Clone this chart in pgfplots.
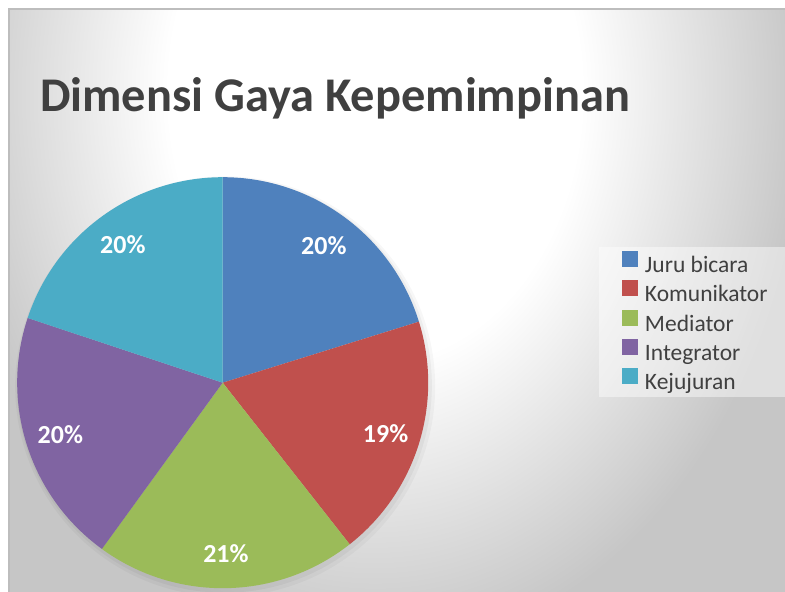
\documentclass[border=0pt]{standalone}
\usepackage{pgfplots}
\pgfplotsset{compat=1.18}
\usepackage{pgfplotstable}
\usepackage{fontspec}
\setmainfont{Carlito}
\definecolor{pblue}{HTML}{4F81BD}
\definecolor{pred}{HTML}{C0504D}
\definecolor{pgreen}{HTML}{9BBB59}
\definecolor{ppurple}{HTML}{8064A2}
\definecolor{pteal}{HTML}{4BACC6}
\definecolor{txt}{HTML}{404040}
\definecolor{bggray}{HTML}{C6C6C6}
\definecolor{bdr}{HTML}{BDBDBD}
\pgfdeclareradialshading{bgshade}{\pgfpoint{0bp}{0bp}}{color(0bp)=(white); color(12bp)=(white); color(25bp)=(bggray); color(50bp)=(bggray)}

\pgfplotstableread[col sep=comma]{
label,value
Juru bicara,20.2
Komunikator,19.2
Mediator,20.6
Integrator,20.1
Kejujuran,19.9
}\piedata

\newcommand\getrow[3]{%
  \pgfplotstablegetelem{#1}{value}\of\piedata\global\let#2\pgfplotsretval
  \pgfplotstablegetelem{#1}{label}\of\piedata\global\let#3\pgfplotsretval}
\getrow{0}{\vA}{\lA}
\getrow{1}{\vB}{\lB}
\getrow{2}{\vC}{\lC}
\getrow{3}{\vD}{\lD}
\getrow{4}{\vE}{\lE}
\pgfmathsetmacro\tot{\vA+\vB+\vC+\vD+\vE}
\pgfmathsetmacro\aA{90}
\pgfmathsetmacro\aB{\aA-360*\vA/\tot}
\pgfmathsetmacro\aC{\aB-360*\vB/\tot}
\pgfmathsetmacro\aD{\aC-360*\vC/\tot}
\pgfmathsetmacro\aE{\aD-360*\vD/\tot}
\pgfmathsetmacro\aF{\aE-360*\vE/\tot}
\pgfmathsetmacro\mA{(\aA+\aB)/2}
\pgfmathsetmacro\mB{(\aB+\aC)/2}
\pgfmathsetmacro\mC{(\aC+\aD)/2}
\pgfmathsetmacro\mD{(\aD+\aE)/2}
\pgfmathsetmacro\mE{(\aE+\aF)/2}
\pgfmathtruncatemacro\pA{round(100*\vA/\tot)}
\pgfmathtruncatemacro\pB{round(100*\vB/\tot)}
\pgfmathtruncatemacro\pC{round(100*\vC/\tot)}
\pgfmathtruncatemacro\pD{round(100*\vD/\tot)}
\pgfmathtruncatemacro\pE{round(100*\vE/\tot)}
\def\lr{0.83}

\begin{document}%
\begin{tikzpicture}%
\useasboundingbox (0,0) rectangle (785bp,592bp);
\fill[white] (0,0) rectangle (785bp,592bp);
\begin{scope}
\clip (9bp,0) rectangle (785bp,583bp);
\fill[bggray] (9bp,0) rectangle (785bp,583bp);
\shade[shading=bgshade] (375bp,500bp) ellipse [x radius=430bp, y radius=560bp];
\end{scope}
\draw[bdr, line width=2bp] (9bp,0) -- (9bp,583bp) -- (785bp,583bp);
\fill[white, opacity=0.45] (599bp,195bp) rectangle (785bp,345bp);
\node[anchor=base west, text=txt, font=\bfseries\fontsize{48.4bp}{58bp}\selectfont, inner sep=0pt] at (40bp,480bp) {Dimensi Gaya Kepemimpinan};
\begin{axis}[
  at={(222.7bp,209.3bp)}, anchor=origin,
  x=205.5bp, y=205.5bp,
  xmin=-1, xmax=1, ymin=-1, ymax=1,
  hide axis, clip=false,
  legend image code/.code={\fill[#1] (0bp,0bp) rectangle (16bp,16bp);},
  legend cell align=left,
  legend style={at={(axis description cs:1.4715,0.8211)}, anchor=north west,
    draw=none, fill=none, inner sep=0pt, outer sep=0pt,
    row sep=1.9bp, column sep=7bp, text=txt,
    font=\fontsize{23.5bp}{28bp}\selectfont,
    nodes={inner sep=0pt, text height=17bp, text depth=6bp}},
]
\fill[black, opacity=0.03] (axis cs:0.012,-0.018) circle[radius=210bp];
\fill[black, opacity=0.04] (axis cs:0.008,-0.012) circle[radius=207.5bp];
\fill[pblue] (axis cs:0,0) -- (axis cs:{cos(\aA)},{sin(\aA)}) arc[start angle=\aA, end angle=\aB, radius=205.5bp] -- cycle;
\fill[pred] (axis cs:0,0) -- (axis cs:{cos(\aB)},{sin(\aB)}) arc[start angle=\aB, end angle=\aC, radius=205.5bp] -- cycle;
\fill[pgreen] (axis cs:0,0) -- (axis cs:{cos(\aC)},{sin(\aC)}) arc[start angle=\aC, end angle=\aD, radius=205.5bp] -- cycle;
\fill[ppurple] (axis cs:0,0) -- (axis cs:{cos(\aD)},{sin(\aD)}) arc[start angle=\aD, end angle=\aE, radius=205.5bp] -- cycle;
\fill[pteal] (axis cs:0,0) -- (axis cs:{cos(\aE)},{sin(\aE)}) arc[start angle=\aE, end angle=\aF, radius=205.5bp] -- cycle;
\begin{scope}[every node/.style={text=white, font=\bfseries\fontsize{26bp}{30bp}\selectfont, inner sep=0pt}]
\node at (axis cs:{\lr*cos(\mA)},{\lr*sin(\mA)}) {\pA\%};
\node at (axis cs:{\lr*cos(\mB)},{\lr*sin(\mB)}) {\pB\%};
\node at (axis cs:{\lr*cos(\mC)},{\lr*sin(\mC)}) {\pC\%};
\node at (axis cs:{\lr*cos(\mD)},{\lr*sin(\mD)}) {\pD\%};
\node at (axis cs:{\lr*cos(\mE)},{\lr*sin(\mE)}) {\pE\%};
\end{scope}
\addlegendimage{fill=pblue, draw=none}\addlegendentryexpanded{\lA}
\addlegendimage{fill=pred, draw=none}\addlegendentryexpanded{\lB}
\addlegendimage{fill=pgreen, draw=none}\addlegendentryexpanded{\lC}
\addlegendimage{fill=ppurple, draw=none}\addlegendentryexpanded{\lD}
\addlegendimage{fill=pteal, draw=none}\addlegendentryexpanded{\lE}
\end{axis}
\end{tikzpicture}%
\end{document}
